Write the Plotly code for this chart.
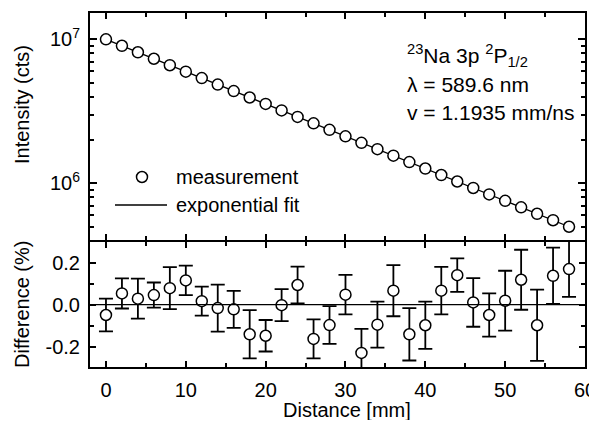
import plotly.graph_objects as go

distance = [0, 2, 4, 6, 8, 10, 12, 14, 16, 18, 20, 22, 24, 26, 28,
            30, 32, 34, 36, 38, 40, 42, 44, 46, 48, 50, 52, 54, 56, 58]
intensity = [1.000e7, 9.02e6, 8.13e6, 7.33e6, 6.61e6, 5.96e6, 5.38e6, 4.85e6,
             4.37e6, 3.945e6, 3.56e6, 3.21e6, 2.89e6, 2.61e6, 2.35e6, 2.12e6,
             1.91e6, 1.726e6, 1.556e6, 1.403e6, 1.266e6, 1.141e6, 1.029e6,
             9.28e5, 8.37e5, 7.55e5, 6.81e5, 6.14e5, 5.54e5, 4.99e5]
fit_x = [0, 58]
fit_y = [1.0e7, 4.99e5]
difference = [-0.049, 0.054, 0.029, 0.046, 0.079, 0.116, 0.017, -0.016, -0.022,
              -0.141, -0.148, -0.002, 0.094, -0.163, -0.097, 0.048, -0.230,
              -0.095, 0.067, -0.141, -0.098, 0.067, 0.141, 0.011, -0.049,
              0.019, 0.119, -0.098, 0.138, 0.170]
diff_err = [0.078, 0.072, 0.095, 0.060, 0.100, 0.070, 0.069, 0.112, 0.088,
            0.115, 0.075, 0.076, 0.088, 0.093, 0.090, 0.094, 0.115, 0.110,
            0.122, 0.125, 0.113, 0.113, 0.080, 0.116, 0.103, 0.143, 0.143,
            0.170, 0.134, 0.133]
x_ticks = [0, 10, 20, 30, 40, 50, 60]
x_minor = [5, 15, 25, 35, 45, 55]
diff_ticks = [-0.2, 0.0, 0.2]
diff_ticktext = ["-0.2", "0.0", "0.2"]
int_ticks = [1e6, 1e7]
int_ticktext = ["10<sup>6</sup>", "10<sup>7</sup>"]
int_minor = [5e5, 6e5, 7e5, 8e5, 9e5, 2e6, 3e6, 4e6, 5e6, 6e6, 7e6, 8e6, 9e6]

FONT = "Liberation Sans, Arial, Helvetica, sans-serif"
FS = 20
FS_NOTE = 21

# page body has an 8px margin, so the figure is drawn offset by 8px
OFF = 8
FIG_W, FIG_H = 597, 428 - 2 * OFF
# plot area in page pixels
PL, PR, PT, PB = 90, 585, 13, 367
PW, PH = PR - PL, PB - PT
SPLIT_TOP, SPLIT_BOT = 240, 242   # top panel bottom / bottom panel top

fig = go.Figure()
fig.add_trace(go.Scatter(x=fit_x, y=fit_y, mode="lines", name="exponential fit",
                         showlegend=False,
                         line=dict(color="black", width=1.3),
                         xaxis="x2", yaxis="y2"))
fig.add_trace(go.Scatter(x=distance, y=intensity, mode="markers", name="measurement",
                         showlegend=False,
                         marker=dict(symbol="circle", size=11, color="white",
                                     line=dict(color="black", width=1.5)),
                         xaxis="x2", yaxis="y2"))
fig.add_trace(go.Scatter(x=distance, y=difference, mode="markers", showlegend=False,
                         marker=dict(symbol="circle", size=11, color="white",
                                     line=dict(color="black", width=1.5)),
                         error_y=dict(type="data", array=diff_err, color="black",
                                      thickness=1.8, width=7),
                         xaxis="x", yaxis="y"))

minor_common = dict(ticks="inside", tickcolor="black", tickwidth=1.5, ticklen=4)
axis_common = dict(showline=True, linewidth=2, linecolor="black", mirror="allticks",
                   ticks="inside", tickcolor="black", tickwidth=1.5,
                   showgrid=False, zeroline=False, automargin=False,
                   ticklabelstandoff=4,
                   tickfont=dict(family=FONT, size=FS, color="black"))


def px(x):
    return (x - PL) / PW


def py(y):
    return (PB - y) / PH


fig.update_layout(
    width=FIG_W, height=FIG_H,
    margin=dict(l=PL - OFF, r=FIG_W - (PR - OFF), t=PT - OFF, b=FIG_H - (PB - OFF)),
    plot_bgcolor="white", paper_bgcolor="white",
    font=dict(family=FONT, size=FS, color="black"),
    xaxis=dict(range=[-2, 60], tickvals=x_ticks, ticklen=6,
               minor=dict(tickvals=x_minor, **minor_common),
               anchor="y", **axis_common),
    xaxis2=dict(range=[-2, 60], tickvals=x_ticks, ticklen=6,
                minor=dict(tickvals=x_minor, **minor_common),
                showticklabels=False, anchor="y2", matches="x", **axis_common),
    yaxis=dict(domain=[0, py(SPLIT_BOT)], range=[-0.297, 0.299], tickvals=diff_ticks,
               ticktext=diff_ticktext, ticklen=6,
               minor=dict(tickvals=[-0.1, 0.1], **minor_common),
               anchor="x", **axis_common),
    yaxis2=dict(domain=[py(SPLIT_TOP), 1], type="log", range=[5.606, 7.183],
                tickvals=int_ticks, ticktext=int_ticktext, ticklen=7,
                minor=dict(tickvals=int_minor, **minor_common),
                anchor="x2", **axis_common),
    showlegend=False,
    shapes=[
        dict(type="line", xref="x", yref="y", x0=-2, x1=60, y0=0, y1=0,
             line=dict(color="black", width=1.3)),
        # legend glyphs
        dict(type="line", xref="paper", yref="paper", x0=px(115), x1=px(167),
             y0=py(205), y1=py(205), line=dict(color="black", width=1.3)),
        dict(type="circle", xref="paper", yref="paper",
             x0=px(142 - 5.5), x1=px(142 + 5.5), y0=py(177 + 5.5), y1=py(177 - 5.5),
             line=dict(color="black", width=1.5), fillcolor="white"),
    ],
    annotations=[
        dict(xref="paper", yref="paper", x=px(405), y=py(55), xanchor="left",
             yanchor="middle", showarrow=False, align="left",
             text="<sup>23</sup>Na 3p <sup>2</sup>P<sub>1/2</sub>",
             font=dict(family=FONT, size=FS_NOTE)),
        dict(xref="paper", yref="paper", x=px(405), y=py(84), xanchor="left",
             yanchor="middle", showarrow=False, align="left",
             text="λ = 589.6 nm", font=dict(family=FONT, size=FS_NOTE)),
        dict(xref="paper", yref="paper", x=px(405), y=py(112), xanchor="left",
             yanchor="middle", showarrow=False, align="left",
             text="v = 1.1935 mm/ns", font=dict(family=FONT, size=FS_NOTE)),
        dict(xref="paper", yref="paper", x=px(174), y=py(177), xanchor="left",
             yanchor="middle", showarrow=False, text="measurement",
             font=dict(family=FONT, size=FS)),
        dict(xref="paper", yref="paper", x=px(174), y=py(205), xanchor="left",
             yanchor="middle", showarrow=False, text="exponential fit",
             font=dict(family=FONT, size=FS)),
        dict(xref="paper", yref="paper", x=px(347), y=py(410), xanchor="center",
             yanchor="middle", showarrow=False, text="Distance [mm]",
             font=dict(family=FONT, size=FS)),
        dict(xref="paper", yref="paper", x=px(22), y=py(105), xanchor="center",
             yanchor="middle", showarrow=False, text="Intensity (cts)",
             textangle=-90, font=dict(family=FONT, size=FS)),
        dict(xref="paper", yref="paper", x=px(22), y=py(305), xanchor="center",
             yanchor="middle", showarrow=False, text="Difference (%)",
             textangle=-90, font=dict(family=FONT, size=FS)),
    ],
)

fig.write_html("out.html")
